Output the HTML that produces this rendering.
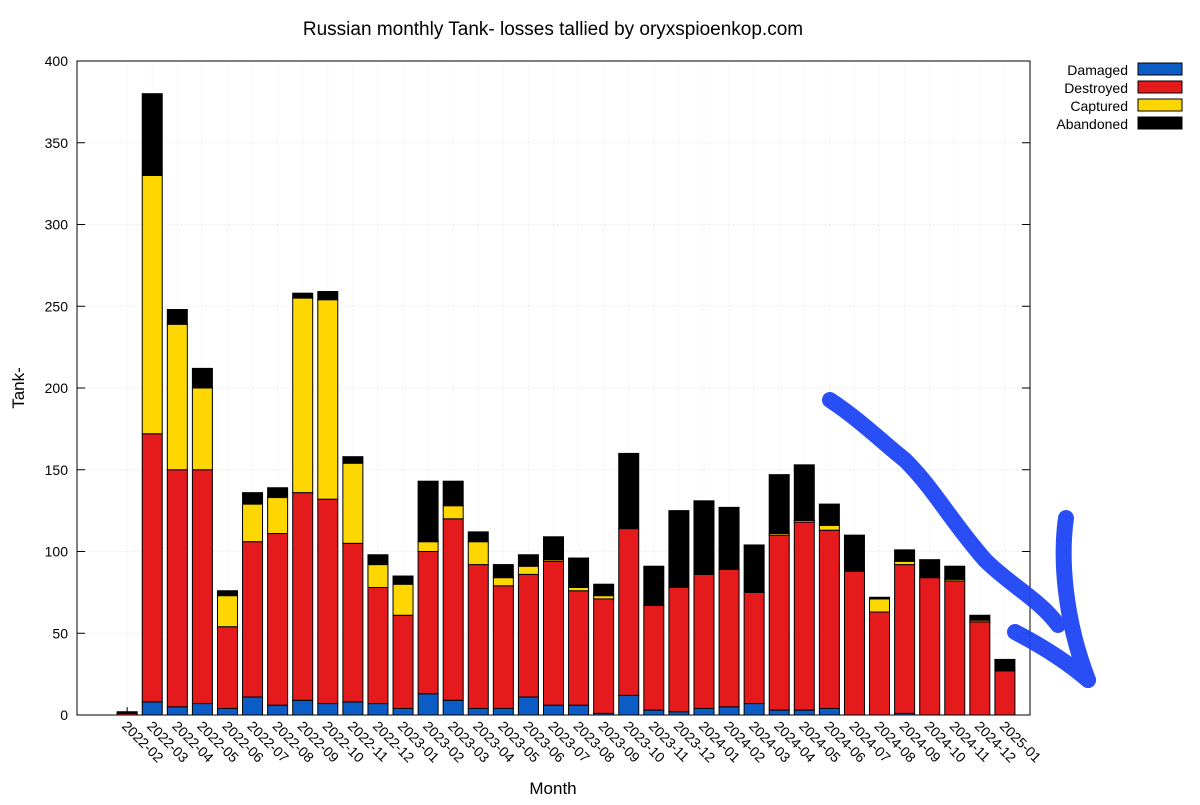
<!DOCTYPE html>
<html><head><meta charset="utf-8"><style>
body{margin:0;background:#fff;width:1200px;height:800px;overflow:hidden;font-family:"Liberation Sans",sans-serif}
</style></head><body>
<svg id="chart" width="1200" height="800" xmlns="http://www.w3.org/2000/svg" font-family="Liberation Sans, sans-serif">
<text x="553" y="35" font-size="19" text-anchor="middle">Russian monthly Tank- losses tallied by oryxspioenkop.com</text>
<text x="553" y="794" font-size="17" text-anchor="middle">Month</text>
<text transform="translate(24,388) rotate(-90)" font-size="17" text-anchor="middle">Tank-</text>
<g id="grid"></g><g id="ticks"></g><g id="bars"></g><g id="axes"></g>
<rect x="77" y="61" width="953" height="654" fill="none" stroke="#000" stroke-width="1"/>
<g font-size="14" text-anchor="end">
<text x="1128" y="75">Damaged</text><rect x="1138" y="63" width="44" height="12" fill="#0b5cc4" stroke="#000"/>
<text x="1128" y="93">Destroyed</text><rect x="1138" y="81" width="44" height="12" fill="#e41a1c" stroke="#000"/>
<text x="1128" y="111">Captured</text><rect x="1138" y="99" width="44" height="12" fill="#ffd700" stroke="#000"/>
<text x="1128" y="129">Abandoned</text><rect x="1138" y="117" width="44" height="12" fill="#000" stroke="#000"/>
</g>
<g fill="none" stroke="#1f45f5" stroke-width="16" stroke-linecap="round" stroke-linejoin="round" opacity="0.95">
<path d="M830,400 C860,420 880,440 905,460 C935,490 950,520 985,560 C1010,585 1040,600 1058,625"/>
<path d="M1066,518 C1060,560 1065,620 1088,680"/>
<path d="M1015,632 C1040,645 1065,660 1088,680"/>
</g>
</svg>
<script>
const months=["2022-02","2022-03","2022-04","2022-05","2022-06","2022-07","2022-08","2022-09","2022-10","2022-11","2022-12","2023-01","2023-02","2023-03","2023-04","2023-05","2023-06","2023-07","2023-08","2023-09","2023-10","2023-11","2023-12","2024-01","2024-02","2024-03","2024-04","2024-05","2024-06","2024-07","2024-08","2024-09","2024-10","2024-11","2024-12","2025-01"];
const damaged=[0,8,5,7,4,11,6,9,7,8,7,4,13,9,4,4,11,6,6,1,12,3,2,4,5,7,3,3,4,0,0,1,0,0,0,0];
const destroyed=[1,164,145,143,50,95,105,127,125,97,71,57,87,111,88,75,75,88,70,70,102,64,76,82,84,68,107,115,109,88,63,91,84,82,57,27];
const captured=[0,158,89,50,19,23,22,119,122,49,14,19,6,8,14,5,5,1,2,2,0,0,0,0,0,0,1,1,3,0,8,2,0,1,1,0];
const abandoned=[1,50,9,12,3,7,6,3,5,4,6,5,37,15,6,8,7,14,18,7,46,24,47,45,38,29,36,34,13,22,1,7,11,8,3,7];
const yTicks=[0,50,100,150,200,250,300,350,400];
const NS="http://www.w3.org/2000/svg";
const X0=77,X1=1030,Y0=715,Y1=61;
const xs=i=>X0+(i+2)*(X1-X0)/38;
const ys=v=>Y0-v*(Y0-Y1)/400;
function mk(t,a,p){const e=document.createElementNS(NS,t);for(const k in a)e.setAttribute(k,a[k]);p.appendChild(e);return e;}
const grid=document.getElementById('grid'),ticks=document.getElementById('ticks'),bars=document.getElementById('bars'),axes=document.getElementById('axes');
yTicks.forEach(v=>{
 const y=ys(v);
 const g=mk('line',{x1:X0,x2:X1,y1:y,y2:y,stroke:'#ddd','stroke-dasharray':'1,3'},grid);
 
 
 mk('line',{x1:X0,x2:X0+8,y1:y,y2:y,stroke:'#000'},ticks);
 mk('line',{x1:X1,x2:X1-8,y1:y,y2:y,stroke:'#000'},ticks);
 const t=mk('text',{x:X0-9,y:y+5,'font-size':14,'text-anchor':'end'},axes);
 t.textContent=v;
 
 
});
const series=[[damaged,'#0b5cc4','damaged'],[destroyed,'#e41a1c','destroyed'],[captured,'#ffd700','captured'],[abandoned,'#000','abandoned']];
months.forEach((m,i)=>{
 const cx=xs(i);
 const gl=mk('line',{x1:cx,x2:cx,y1:Y1,y2:Y0,stroke:'#e4e4e4','stroke-dasharray':'1,3'},grid);
 
 
 let base=0;
 series.forEach(([arr,col,nm])=>{
  const v=arr[i]; if(v<=0)return;
  const r=mk('rect',{x:cx-10,y:ys(base+v),width:20,height:ys(base)-ys(base+v),fill:col,stroke:'#000','stroke-width':1},bars);
  
  
  base+=v;
 });
 mk('line',{x1:cx,x2:cx,y1:Y0,y2:Y0-8,stroke:'#000'},ticks);
 const t=mk('text',{transform:`translate(${cx-6},${Y0+12}) rotate(45)`,'font-size':14},axes);
 t.textContent=m;
 
 
});
</script>
</body></html>
